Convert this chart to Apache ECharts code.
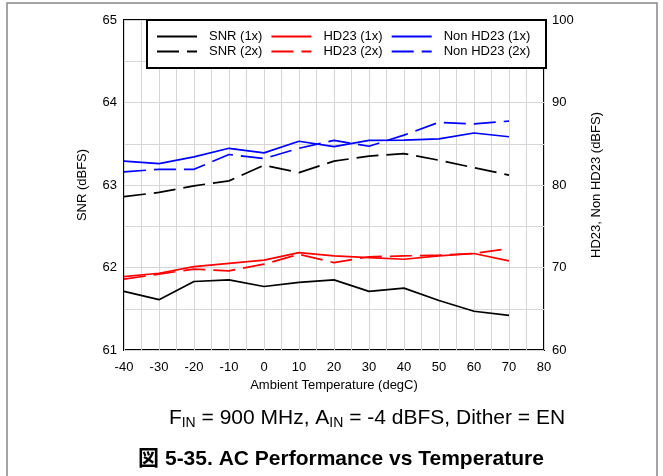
<!DOCTYPE html>
<html>
<head>
<meta charset="utf-8">
<script src="https://cdn.jsdelivr.net/npm/echarts@6/dist/echarts.min.js"></script>
<style>
  html, body { margin: 0; padding: 0; background: #fff; }
  #chart { width: 663px; height: 476px; }
</style>
</head>
<body>
<div id="chart"></div>
<script>
// ambient temperature (degC)
const temps = [-40, -30, -20, -10, 0, 10, 20, 30, 40, 50, 60, 70]
// SNR on left axis (dBFS)
const snr1x = [61.71, 61.61, 61.83, 61.85, 61.77, 61.82, 61.85, 61.71, 61.75, 61.60, 61.47, 61.42]
const snr2x = [62.86, 62.91, 62.99, 63.05, 63.24, 63.15, 63.29, 63.35, 63.38, 63.30, 63.21, 63.12]
// HD23 / Non HD23 on right axis (dBFS)
const hd23_1x = [68.9, 69.3, 70.1, 70.5, 70.9, 71.8, 71.4, 71.2, 71.0, 71.4, 71.7, 70.8]
const hd23_2x = [68.6, 69.2, 69.8, 69.6, 70.4, 71.6, 70.6, 71.3, 71.4, 71.5, 71.7, 72.3]
const nonHd1x = [82.9, 82.6, 83.4, 84.45, 83.9, 85.3, 84.65, 85.4, 85.45, 85.6, 86.3, 85.85]
const nonHd2x = [81.6, 81.9, 81.9, 83.7, 83.2, 84.45, 85.4, 84.7, 86.05, 87.6, 87.4, 87.75]

const pairs = arr => temps.map((t, i) => [t, arr[i]])
const font = 'Arial, "Liberation Sans", sans-serif'
const dash = [22, 8]

function line (name, data, color, dashed, yIdx) {
  return {
    name: name,
    type: 'line',
    yAxisIndex: yIdx,
    symbol: 'none',
    data: pairs(data),
    lineStyle: { color: color, width: 1.7, type: dashed ? dash : 'solid' },
    itemStyle: { color: color }
  }
}

const myChart = echarts.init(document.getElementById('chart'))
const legendText = { color: '#000', fontSize: 13, fontFamily: font, padding: [0, 0, 0, 7] }
const option = {
  animation: false,
  textStyle: { fontFamily: font },
  grid: {
    left: 124,
    right: 119,
    top: 20,
    bottom: 126,
    show: true,
    borderColor: '#000',
    borderWidth: 2
  },
  graphic: [
    {
      type: 'rect',
      shape: { x: 7, y: 3, width: 650, height: 480 },
      style: { fill: 'none', stroke: '#888', lineWidth: 1.5 },
      silent: true
    },
    {
      type: 'rect',
      shape: { x: 147, y: 20, width: 399, height: 48 },
      style: { fill: '#fff', stroke: '#000', lineWidth: 2 },
      z: 10,
      silent: true
    }
  ],
  title: [
    {
      text: 'F{s|IN} = 900 MHz, A{s|IN} = -4 dBFS, Dither = EN',
      left: 362,
      top: 401,
      textAlign: 'center',
      textStyle: {
        fontSize: 21,
        fontWeight: 'normal',
        color: '#000',
        fontFamily: font,
        rich: {
          s: { fontSize: 14, padding: [10, 0, 0, 0], color: '#000', fontFamily: font }
        }
      }
    },
    {
      text: '図 5-35. AC Performance vs Temperature',
      left: 336,
      top: 444,
      textAlign: 'center',
      textStyle: { fontSize: 21, fontWeight: 'bold', color: '#000', fontFamily: '"Liberation Sans", "Noto Sans CJK JP", sans-serif' }
    }
  ],
  legend: [
    {
      data: ['SNR (1x)', 'HD23 (1x)', 'Non HD23 (1x)'],
      left: 156,
      top: 30,
      padding: 0,
      itemWidth: 40,
      itemHeight: 12,
      itemGap: 8,
      z: 20,
      itemStyle: { opacity: 0 },
      textStyle: legendText
    },
    {
      data: ['SNR (2x)', 'HD23 (2x)', 'Non HD23 (2x)'],
      left: 156,
      top: 45,
      padding: 0,
      itemWidth: 40,
      itemHeight: 12,
      itemGap: 8,
      z: 20,
      itemStyle: { opacity: 0 },
      textStyle: legendText
    }
  ],
  xAxis: {
    type: 'value',
    min: -40,
    max: 80,
    interval: 10,
    name: 'Ambient Temperature (degC)',
    nameLocation: 'middle',
    nameGap: 26,
    nameTextStyle: { fontSize: 13, color: '#000' },
    axisLine: { show: false },
    axisTick: { show: false },
    axisLabel: { fontSize: 13, color: '#000', margin: 11 },
    splitLine: { show: true, lineStyle: { color: '#d6d6d6', width: 1 } },
    minorTick: { show: false, splitNumber: 2 },
    minorSplitLine: { show: true, lineStyle: { color: '#d6d6d6', width: 1 } }
  },
  yAxis: [
    {
      type: 'value',
      min: 61,
      max: 65,
      interval: 1,
      name: 'SNR (dBFS)',
      nameLocation: 'middle',
      nameGap: 35,
      nameTextStyle: { fontSize: 13, color: '#000' },
      axisLine: { show: false },
      axisTick: { show: false },
      axisLabel: { fontSize: 13, color: '#000', margin: 7 },
      splitLine: { show: true, lineStyle: { color: '#d6d6d6', width: 1 } },
      minorTick: { show: false, splitNumber: 2 },
      minorSplitLine: { show: true, lineStyle: { color: '#d6d6d6', width: 1 } }
    },
    {
      type: 'value',
      position: 'right',
      min: 60,
      max: 100,
      interval: 10,
      name: 'HD23, Non HD23 (dBFS)',
      nameLocation: 'middle',
      nameGap: 46,
      nameRotate: 90,
      nameTextStyle: { fontSize: 13, color: '#000' },
      axisLine: { show: false },
      axisTick: { show: false },
      axisLabel: { fontSize: 13, color: '#000', margin: 8 },
      splitLine: { show: false }
    }
  ],
  series: [
    line('SNR (1x)', snr1x, '#000000', false, 0),
    line('SNR (2x)', snr2x, '#000000', true, 0),
    line('HD23 (1x)', hd23_1x, '#ff0000', false, 1),
    line('HD23 (2x)', hd23_2x, '#ff0000', true, 1),
    line('Non HD23 (1x)', nonHd1x, '#0000ff', false, 1),
    line('Non HD23 (2x)', nonHd2x, '#0000ff', true, 1)
  ]
}
myChart.setOption(option)
</script>
</body>
</html>
